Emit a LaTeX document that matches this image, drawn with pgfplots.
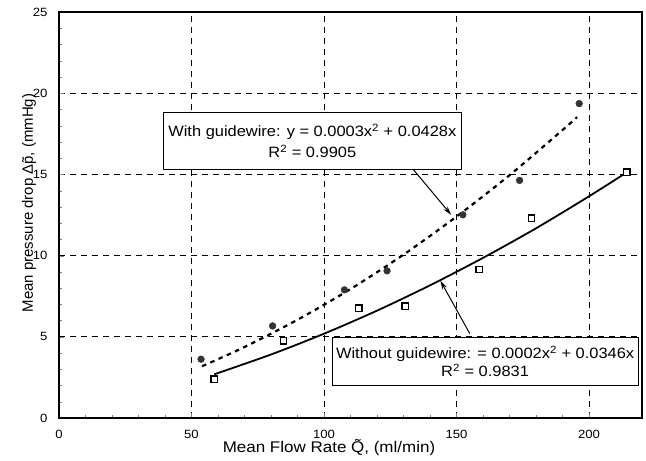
\documentclass[border=0pt]{standalone}
\usepackage{fontspec}
\setmainfont{Liberation Sans}[FakeStretch=1.1]
\newfontfamily\ylabfont{Liberation Sans}
\usepackage{pgfplots}
\usepackage{pgfplotstable}
\pgfplotsset{compat=1.18}
\usetikzlibrary{arrows.meta}

% measured points, with guidewire (filled circles)
\pgfplotstableread{
x y
53.6 3.62
80.6 5.67
107.7 7.89
123.8 9.06
152.4 12.51
173.8 14.63
196.3 19.36
}\withwire

% without guidewire (open squares)
\pgfplotstableread{
x y
58.6 2.38
84.7 4.76
113.1 6.75
130.6 6.89
158.5 9.15
178.3 12.30
214.2 15.13
}\nowire

% trend lines
\pgfplotstableread{
x y
54 3.19
70 4.37
90 6.05
110 7.94
130 10.06
150 12.40
170 14.95
190 17.73
195.5 18.53
}\withfit

\pgfplotstableread{
x y
58.6 2.69
80 3.91
100 5.19
120 6.61
140 8.17
160 9.86
180 11.68
200 13.65
214 15.10
}\nofit

\begin{document}
\begin{tikzpicture}
\useasboundingbox (-59bp,-43bp) rectangle (587bp,418bp);
\begin{axis}[
    width=583bp, height=406bp,
    scale only axis,
    xmin=0, xmax=220,
    ymin=0, ymax=25,
    xtick={0,50,...,200},
    ytick={0,5,...,25},
    minor x tick num=4,
    minor y tick num=4,
    tick pos=left,
    tick align=inside,
    major tick length=5bp,
    minor tick length=3bp,
    grid=major,
    major grid style={black, line width=0.7bp, dash pattern=on 6bp off 5bp},
    axis line style={line width=1.2bp},
    /pgf/number format/assume math mode=true,
    tick label style={font=\fontsize{12}{14}\selectfont},
    xticklabel style={yshift=-9bp},
    yticklabel style={xshift=-8bp},
    xlabel={Mean Flow Rate \~{Q}, (ml/min)},
    ylabel={Mean pressure drop Δ\~{p}, (mmHg)},
    xlabel style={at={(axis description cs:0.4631,-0.0862)}, anchor=base,
        font=\fontsize{15.5}{18}\selectfont},
    ylabel style={at={(axis description cs:-0.0446,0.5296)}, anchor=base,
        font=\ylabfont\fontsize{15}{18}\selectfont},
]
\addplot[black, line width=2.2bp, dash pattern=on 4.5bp off 4.5bp, smooth] table {\withfit};
\addplot[black, line width=1.8bp, smooth] table {\nofit};
\addplot[only marks, mark=*, mark size=3.4bp, black!80] table {\withwire};
\addplot[only marks, mark=square*, mark size=3.2bp,
    mark options={fill=white, draw=black, line width=1.4bp}] table {\nowire};

\draw[-{Stealth[length=9bp,width=5bp]}, line width=1bp] (axis cs:133.5,15.34) -- (axis cs:148.0,12.51);
\draw[-{Stealth[length=9bp,width=5bp]}, line width=1bp] (axis cs:155.0,5.2) -- (axis cs:143.9,8.46);

\node[draw, fill=white, line width=1.1bp, align=center, inner sep=0pt,
    minimum width=298bp, minimum height=57bp, font=\fontsize{15}{18}\selectfont]
    at (axis cs:95.6,17.05)
    {With guidewire: y = 0.0003x\textsuperscript{2} + 0.0428x\\[3pt]R\textsuperscript{2} = 0.9905};
\node[draw, fill=white, line width=1.1bp, align=center, inner sep=0pt,
    minimum width=306bp, minimum height=48bp, font=\fontsize{15}{18}\selectfont]
    at (axis cs:160.8,3.5)
    {Without guidewire: = 0.0002x\textsuperscript{2} + 0.0346x\\R\textsuperscript{2} = 0.9831};
\end{axis}
\end{tikzpicture}
\end{document}
